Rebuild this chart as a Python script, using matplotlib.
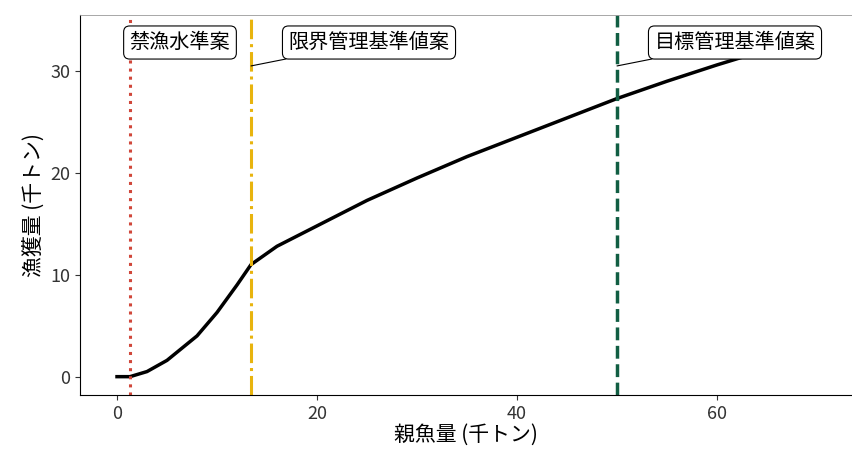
import matplotlib
matplotlib.use("Agg")
import matplotlib.pyplot as plt

plt.rcParams['font.family'] = ['Noto Sans CJK JP', 'DejaVu Sans']

ssb = [0, 1.3, 3, 5, 8, 10, 12, 13.4, 16, 20, 25, 30, 35, 40, 45, 50, 55, 60, 63]
catch = [0, 0, 0.5, 1.6, 4, 6.3, 9, 11, 12.8, 14.8, 17.3, 19.5, 21.6, 23.5, 25.4, 27.3, 29, 30.6, 31.5]

ban_x, limit_x, target_x = 1.3, 13.4, 50

fig = plt.figure(figsize=(8.52, 4.54), dpi=100)
ax = fig.add_axes([80/852, 1-395/454, 772/852, 380/454])
ax.plot(ssb, catch, color='black', lw=2.5, zorder=2)
ax.axvline(ban_x, color='#d0473a', ls=':', lw=2.2)
ax.axvline(limit_x, color='#e8b40e', ls='-.', lw=2.2)
ax.axvline(target_x, color='#115e43', ls='--', lw=2.5)

bbox = dict(boxstyle='round,pad=0.3', fc='white', ec='black', lw=0.8)
arrow = dict(arrowstyle='-', color='black', lw=0.8, shrinkA=0, shrinkB=0)
ax.annotate('禁漁水準案', xy=(ban_x, 32.5), xytext=(6.3, 32.8), fontsize=14.5,
            ha='center', va='center', bbox=bbox, zorder=5)
ax.annotate('限界管理基準値案', xy=(limit_x, 30.5), xytext=(25.2, 32.8), fontsize=14.5,
            ha='center', va='center', bbox=bbox, arrowprops=arrow, zorder=5)
ax.annotate('目標管理基準値案', xy=(target_x, 30.5), xytext=(61.8, 32.8), fontsize=14.5,
            ha='center', va='center', bbox=bbox, arrowprops=arrow, zorder=5)

ax.set_xlim(-3.7, 73.5)
ax.set_ylim(-1.8, 35.5)
ax.set_xticks([0, 20, 40, 60])
ax.set_yticks([0, 10, 20, 30])
ax.tick_params(labelsize=13, colors='#333333')
ax.set_xlabel('親魚量 (千トン)', fontsize=15, labelpad=1)
ax.set_ylabel('漁獲量 (千トン)', fontsize=15)
ax.spines['right'].set_visible(False)
ax.spines['top'].set_color('#999999')
ax.spines['top'].set_linewidth(0.6)
fig.savefig('out.png', dpi=100)
